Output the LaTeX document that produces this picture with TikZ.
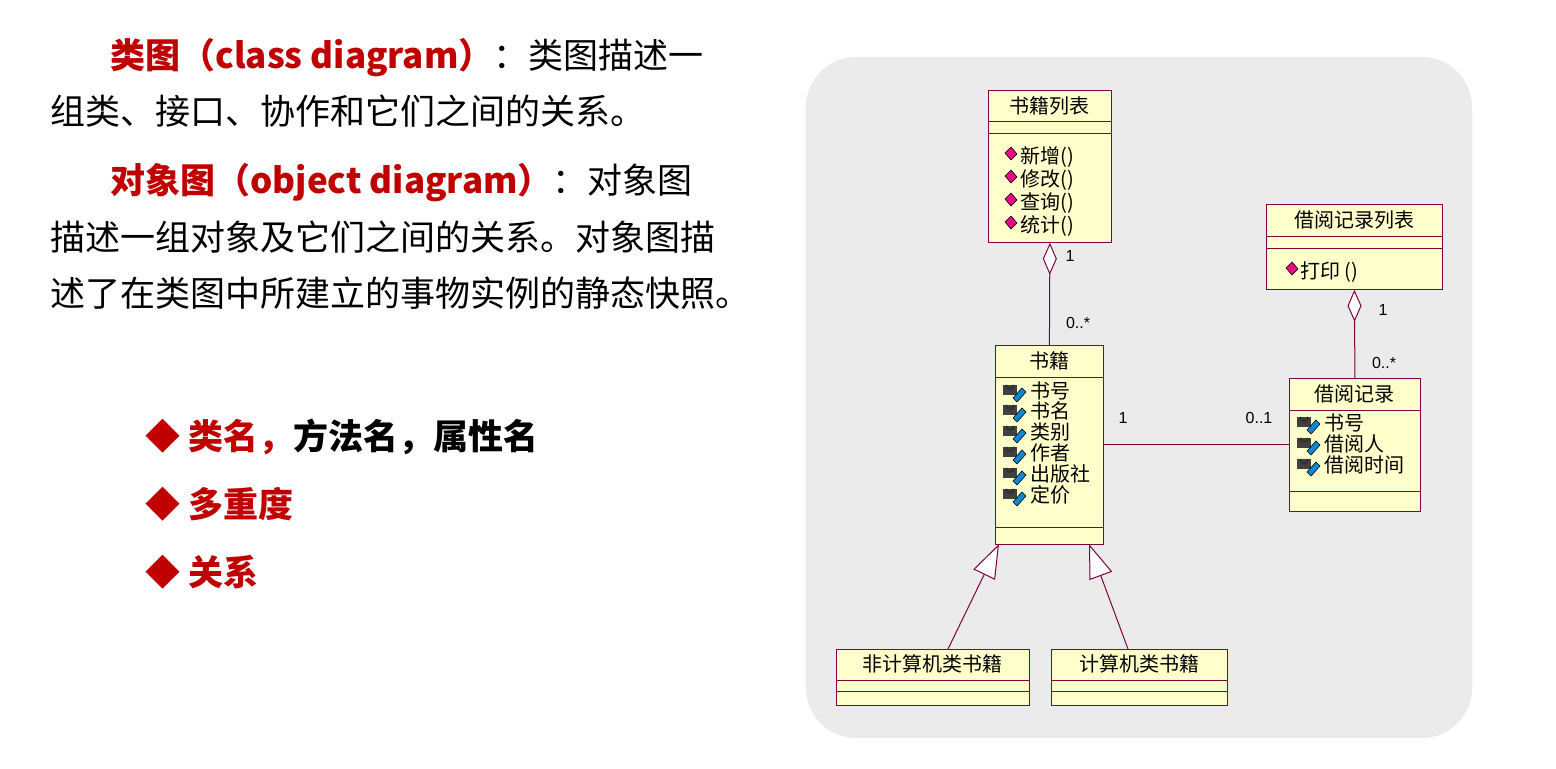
\documentclass[tikz,border=0pt]{standalone}
\usepackage{fontspec}
\usetikzlibrary{arrows.meta}
\newfontfamily\cjk{Noto Sans CJK SC}
\newfontfamily\numfont{Liberation Sans}
\definecolor{titlered}{RGB}{192,0,0}
\definecolor{umlfill}{RGB}{255,255,204}
\definecolor{umledge}{RGB}{128,0,64}
\definecolor{bggray}{RGB}{235,235,235}

% one class box: name, x1, y1, x2, y2, first and second separator
\newcommand{\classbox}[7]{%
  \node[cls, anchor=north west, minimum width={(#4-#2)*0.5pt}, minimum height={(#5-#3)*0.5pt}] (#1) at (#2,#3) {};
  \draw[umlline] (#2,#6) -- (#4,#6);
  \draw[umlline] (#2,#7) -- (#4,#7);
}

\begin{document}
\begin{tikzpicture}[x=0.5pt,y=-0.5pt]
	\tikzset{cls/.style = {draw=umledge, fill=umlfill, inner sep=0pt}}
	\tikzset{umlline/.style = {draw=umledge, line width=0.5pt}}
	\tikzset{umltext/.style = {font=\cjk\fontsize{10}{10}\selectfont, inner sep=0pt}}
	\tikzset{mult/.style = {font=\numfont\fontsize{8}{8}\selectfont, inner sep=0pt}}
	\tikzset{line/.style = {font=\cjk\fontsize{17.5}{17.5}\selectfont, anchor=base west, inner sep=0pt}}
	\tikzset{agg/.style = {umlline, {Diamond[open, fill=white, length=16pt, width=7pt]}-}}
	\tikzset{gen/.style = {umlline, -{Triangle[open, fill=white, length=17pt, width=12pt]}}}
	\tikzset{meth/.pic = {\fill[magenta!85!purple, draw=black, line width=0.3pt] (-6,-1) -- (0,-7) -- (6,0) -- (0,6) -- cycle;}}
	\tikzset{attr/.pic = {\fill[gray!50!black] (-9,-3) rectangle (5,7);
		\draw[gray!40!black, line width=1.2pt] (-6,-3) arc (180:0:4);
		\fill[cyan!70!blue, draw=black, line width=0.3pt] (1,10) -- (10,0) -- (14,4) -- (5,14) -- cycle;}}

	\useasboundingbox (0,0) rectangle (1556,768);
	\fill[white] (0,0) rectangle (1556,768);

	% left text
	\node[line] (t1) at (110,68) {{\bfseries\color{titlered}类图（class diagram）}：类图描述一};
	\node[line] (t2) at (50,124) {组类、接口、协作和它们之间的关系。};
	\node[line] (t3) at (110,193) {{\bfseries\color{titlered}对象图（object diagram）}：对象图};
	\node[line] (t4) at (50,250) {描述一组对象及它们之间的关系。对象图描};
	\node[line] (t5) at (50,306) {述了在类图中所建立的事物实例的静态快照。};
	\node[line, font=\cjk\bfseries\fontsize{17.5}{17.5}\selectfont] (b1) at (145,449) {{\color{titlered}◆ 类名，}方法名，属性名};
	\node[line, font=\cjk\bfseries\fontsize{17.5}{17.5}\selectfont] (b2) at (145,517) {{\color{titlered}◆ 多重度}};
	\node[line, font=\cjk\bfseries\fontsize{17.5}{17.5}\selectfont] (b3) at (145,585) {{\color{titlered}◆ 关系}};

	% diagram
	\fill[bggray, rounded corners=25pt] (806,57) rectangle (1472,738);

	\classbox{sjlb}{988}{90}{1111}{242}{121}{133}
	\classbox{jylb}{1266}{204}{1442}{289}{236}{248}
	\classbox{sj}{995}{345}{1103}{544}{377}{527}
	\classbox{jy}{1289}{378}{1420}{511}{410}{491}
	\classbox{fjsj}{836}{649}{1029}{705}{680}{691}
	\classbox{jsj}{1051}{649}{1227}{705}{680}{691}

	\node[umltext] (sjlbt) at (1049,106) {书籍列表};
	\node[umltext] (jylbt) at (1354,220) {借阅记录列表};
	\node[umltext] (sjt) at (1049,361) {书籍};
	\node[umltext] (jyt) at (1354,394) {借阅记录};
	\node[umltext] (fjsjt) at (932,664) {非计算机类书籍};
	\node[umltext] (jsjt) at (1139,664) {计算机类书籍};

	\foreach \y/\t in {157/新增(), 180/修改(), 203/查询(), 226/统计()} {
		\pic at (1011,\y-3) {meth};
		\node[umltext, anchor=west] at (1020,\y) {\t};
	}
	\pic at (1292,269) {meth};
	\node[umltext, anchor=west] at (1300,272) {打印 ()};

	\foreach \y/\t in {391/书号, 411/书名, 432/类别, 453/作者, 474/出版社, 495/定价} {
		\pic at (1012,\y-3) {attr};
		\node[umltext, anchor=west] at (1030,\y) {\t};
	}
	\foreach \y/\t in {423/书号, 444/借阅人, 465/借阅时间} {
		\pic at (1306,\y-3) {attr};
		\node[umltext, anchor=west] at (1324,\y) {\t};
	}

	% connectors
	\draw[agg] (sjlb.south) -- (sj.north);
	\draw[agg] (jylb.south) -- (jy.north);
	\draw[umlline] (sj.east) -- (jy.west |- sj.east);
	\coordinate (g1) at (999,544);
	\coordinate (g2) at (1089,544);
	\coordinate (f1) at (948,649);
	\coordinate (f2) at (1128,649);
	\draw[gen] (f1) -- (g1);
	\draw[gen] (f2) -- (g2);

	\node[mult] (m1) at (1070,256) {1};
	\node[mult] (m2) at (1078,323) {0..*};
	\node[mult] (m3) at (1383,310) {1};
	\node[mult] (m4) at (1384,363) {0..*};
	\node[mult] (m5) at (1123,418) {1};
	\node[mult] (m6) at (1259,418) {0..1};
\end{tikzpicture}
\end{document}
